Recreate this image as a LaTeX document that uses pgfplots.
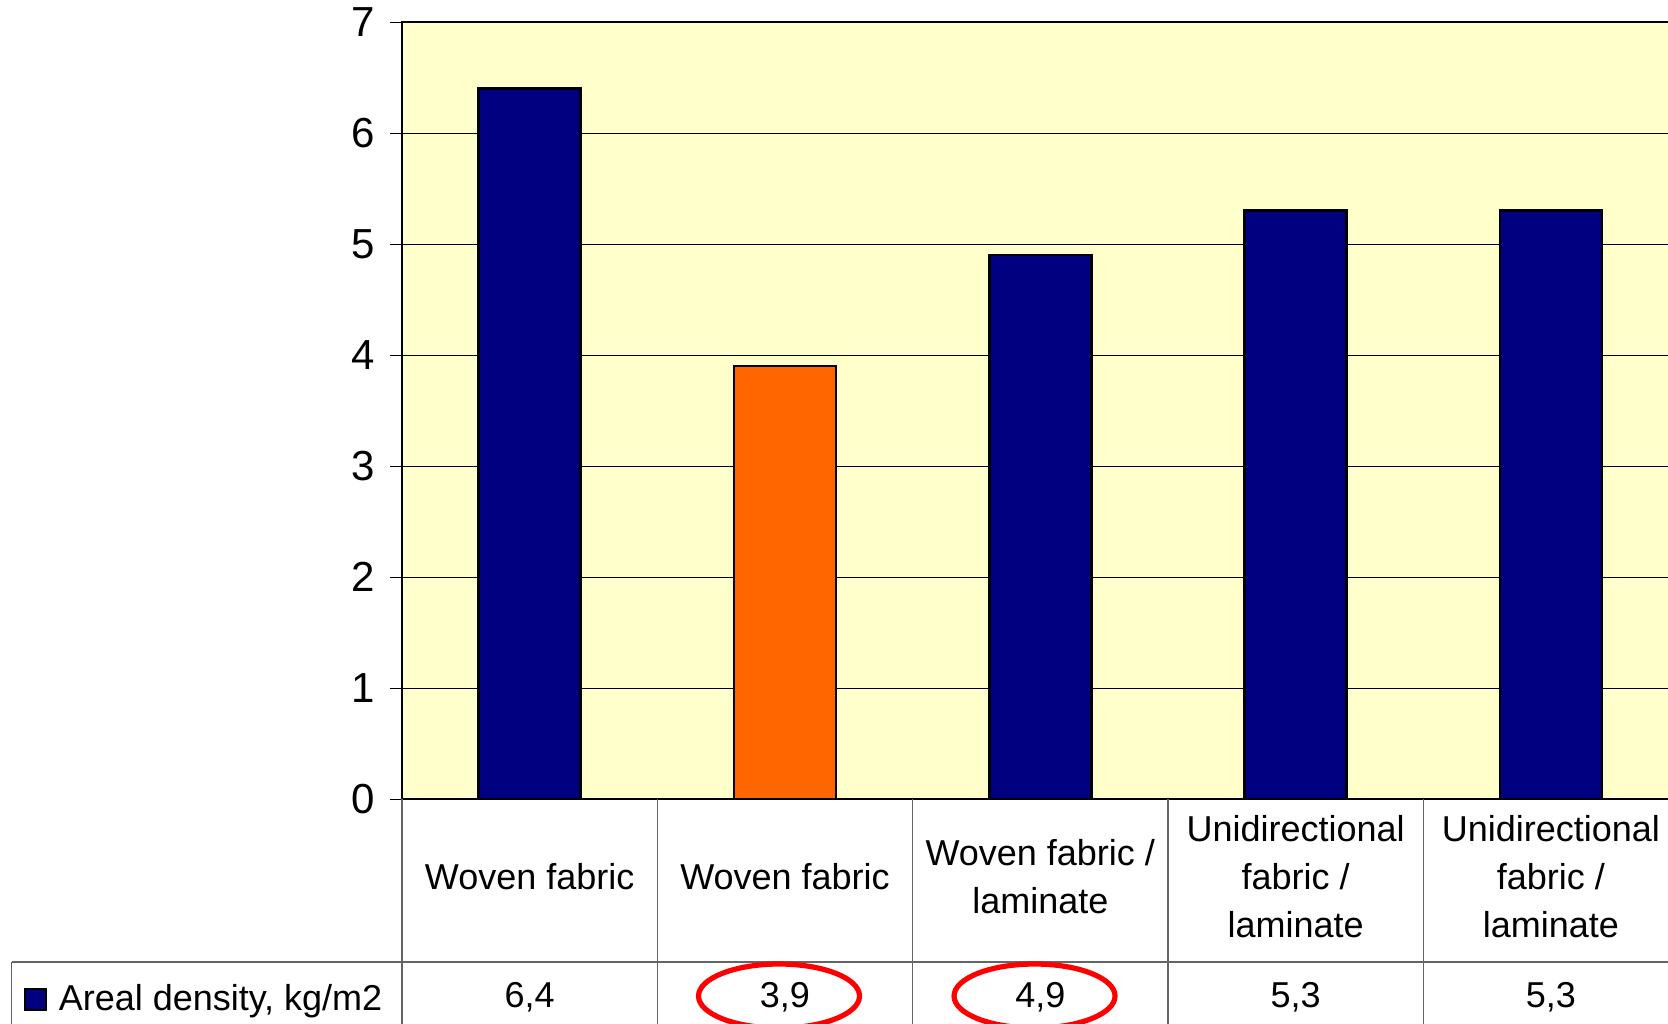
\documentclass[border=0pt]{standalone}
\usepackage{fontspec}
\setmainfont{Liberation Sans}
\usepackage{pgfplots}
\usepackage{pgfplotstable}
\pgfplotsset{compat=1.18}

\definecolor{barnavy}{RGB}{0,0,128}
\definecolor{barorange}{RGB}{255,102,0}
\definecolor{bgyellow}{RGB}{255,255,204}
\definecolor{cellline}{RGB}{100,100,100}

% areal density per specimen, kg/m2
\pgfplotstableread{
idx density
0 6.4
1 3.9
2 4.9
3 5.3
4 5.3
}\densitytable

\begin{document}
\begin{tikzpicture}
\path[use as bounding box] (-201pt,-112pt) rectangle (633pt,399.5pt);
\clip (-201pt,-112pt) rectangle (633pt,399.5pt);
\begin{axis}[
  at={(0,0)}, anchor=south west,
  scale only axis, width=638.3pt, height=388.5pt,
  xmin=-0.5, xmax=4.5, ymin=0, ymax=7,
  clip=false,
  axis background/.style={fill=bgyellow},
  ymajorgrids, grid style={black, line width=0.5pt},
  axis line style={black, line width=0.6pt},
  tick align=outside, major tick length=6pt,
  major x tick style={draw=none},
  major y tick style={black, line width=0.5pt},
  xtick={0,...,4},
  xticklabels={{Woven fabric},{Woven fabric},{Woven fabric /\\laminate},
               {Unidirectional\\fabric /\\laminate},{Unidirectional\\fabric /\\laminate}},
  xticklabel style={anchor=center, yshift=-33pt, align=center,
                    font=\fontsize{18}{24}\selectfont},
  ytick={0,...,7},
  yticklabel style={font=\fontsize{21}{24}\selectfont, xshift=-4pt},
  /pgf/number format/assume math mode=true,
  legend style={at={(axis description cs:-0.2961,-0.2574)}, anchor=west,
                draw=none, fill=none, inner sep=0pt,
                font=\fontsize{18}{24}\selectfont,
                /tikz/every odd column/.style={column sep=3.7pt}},
  legend image code/.code={\draw[fill=barnavy, draw=black, line width=1pt]
                           (0pt,-5.25pt) rectangle (10.5pt,5.25pt);},
]
% table grid below the plot area
\draw[cellline, line width=0.6pt] (axis cs:-2.028,-1.468) -- (axis cs:4.6,-1.468);
\pgfplotsinvokeforeach{-0.5,0.5,1.5,2.5,3.5}{
  \draw[cellline, line width=0.6pt] (axis cs:#1,0) -- (axis cs:#1,-2.2);
}
\draw[cellline, line width=0.6pt] (axis cs:-2.028,-1.468) -- (axis cs:-2.028,-2.2);

\addplot[ybar, bar width=0.4, bar shift=0pt, fill=barnavy, draw=black, line width=1.3pt,
         x filter/.expression={x==1 ? nan : x}]
  table[x=idx, y=density] {\densitytable};
\addlegendentry{Areal density, kg/m2}
\addplot[ybar, bar width=0.4, bar shift=0pt, fill=barorange, draw=black, line width=1.3pt,
         x filter/.expression={x==1 ? x : nan}, forget plot]
  table[x=idx, y=density] {\densitytable};

% value row of the data table
\addplot[draw=none, mark=none, forget plot,
         point meta=explicit,
         nodes near coords={\pgfmathprintnumber[fixed, fixed zerofill, precision=1, use comma]{\pgfplotspointmeta}},
         every node near coord/.append style={anchor=center, inner sep=0pt,
                                              font=\fontsize{18}{24}\selectfont}]
  table[x=idx, y expr=-1.786, meta=density] {\densitytable};

% highlighted values
\draw[red, line width=2.6pt] (axis cs:0.9767,-1.775) ellipse [x radius=40.25pt, y radius=16pt];
\draw[red, line width=2.6pt] (axis cs:1.9775,-1.775) ellipse [x radius=40.25pt, y radius=16pt];
\end{axis}
\end{tikzpicture}
\end{document}
